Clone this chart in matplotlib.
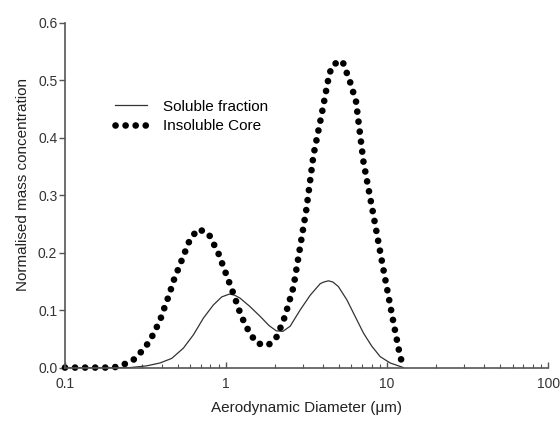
import matplotlib
matplotlib.use("Agg")
import matplotlib.pyplot as plt
from matplotlib.ticker import LogLocator, NullFormatter, FixedLocator, FixedFormatter

plt.rcParams['font.family'] = ['Liberation Sans', 'DejaVu Sans']

# soluble fraction (solid line)
d_sol = [0.1, 0.15, 0.2, 0.254, 0.321, 0.389, 0.46, 0.544, 0.627, 0.723, 0.834, 0.94,
         1.05, 1.13, 1.22, 1.41, 1.63, 1.85, 2.05, 2.25, 2.5, 2.88, 3.33, 3.84, 4.05, 4.32,
         4.6, 4.98, 5.62, 6.33, 7.13, 8.04, 9.06, 10.45, 12.05, 12.6]
c_sol = [0.0, 0.0, 0.0, 0.0, 0.003, 0.008, 0.016, 0.034, 0.057, 0.086, 0.109, 0.123,
         0.128, 0.126, 0.121, 0.106, 0.089, 0.073, 0.064, 0.063, 0.072, 0.1, 0.126, 0.146, 0.149, 0.151,
         0.149, 0.141, 0.118, 0.089, 0.06, 0.037, 0.019, 0.008, 0.002, 0.0]

# insoluble core (dotted line)
d_ins = [0.1, 0.15, 0.2, 0.23, 0.265, 0.306, 0.337, 0.362, 0.389, 0.408, 0.432, 0.453, 0.475,
         0.531, 0.597, 0.67, 0.776, 0.896, 1.0, 1.11, 1.23, 1.31, 1.41, 1.56, 1.83, 2.07, 2.32,
         2.62, 3.15, 3.49, 3.93, 4.38, 4.65, 5.27, 5.89, 6.41, 7.13, 8.15, 9.49, 10.97, 12.05, 12.7]
c_ins = [0.0, 0.0, 0.0, 0.005, 0.013, 0.031, 0.047, 0.064, 0.082, 0.099, 0.118, 0.135, 0.153,
         0.187, 0.223, 0.241, 0.234, 0.199, 0.163, 0.129, 0.093, 0.076, 0.059, 0.042, 0.039, 0.054, 0.089,
         0.14, 0.275, 0.37, 0.442, 0.512, 0.528, 0.534, 0.497, 0.463, 0.358, 0.271, 0.17, 0.077, 0.019, 0.0]

fig = plt.figure(figsize=(5.6, 4.23), dpi=100)
ax = fig.add_axes([0.116, 0.131, 0.863, 0.815])

ax.plot(d_sol, c_sol, color='#333333', lw=0.9, label='Soluble fraction', clip_on=False)
ax.plot(d_ins, c_ins, color='black', lw=4.8, linestyle=(0, (0.01, 1.5)),
        dash_capstyle='round', label='Insoluble Core', clip_on=False)

ax.set_xscale('log')
ax.set_xlim(0.1, 100)
ax.set_ylim(0, 0.6)

ax.set_yticks([0.0, 0.1, 0.2, 0.3, 0.4, 0.5, 0.6])
ax.set_yticklabels(['0.0', '0.1', '0.2', '0.3', '0.4', '0.5', '0.6'])
ax.xaxis.set_major_locator(FixedLocator([0.1, 1, 10, 100]))
ax.xaxis.set_major_formatter(FixedFormatter(['0.1', '1', '10', '100']))
ax.xaxis.set_minor_locator(LogLocator(base=10, subs=range(2, 10)))
ax.xaxis.set_minor_formatter(NullFormatter())

for s in ['top', 'right']:
    ax.spines[s].set_visible(False)
for s in ['left', 'bottom']:
    ax.spines[s].set_color('#555555')
    ax.spines[s].set_linewidth(1.2)

ax.tick_params(axis='y', direction='out', length=4, width=1, colors='#555555',
               labelcolor='#333333', labelsize=10, pad=1.5)
ax.tick_params(axis='x', which='major', direction='in', length=4, width=1, colors='#555555',
               labelcolor='#333333', labelsize=10, pad=7)
ax.tick_params(axis='x', which='minor', direction='in', length=3, width=0.8, colors='#555555')

ax.set_xlabel('Aerodynamic Diameter (\u03bcm)', fontsize=11, color='#222222')
ax.set_ylabel('Normalised mass concentration', fontsize=11, color='#222222')
ax.xaxis.set_label_coords(0.499, -0.098)
ax.yaxis.set_label_coords(-0.073, 0.532)

fig.legend(*ax.get_legend_handles_labels(), loc='center left', bbox_to_anchor=(0.195, 0.7246),
           frameon=False, fontsize=11, handlelength=2.1, handletextpad=1.0,
           labelspacing=0.37, borderaxespad=0)

fig.savefig('out.png', dpi=100)
